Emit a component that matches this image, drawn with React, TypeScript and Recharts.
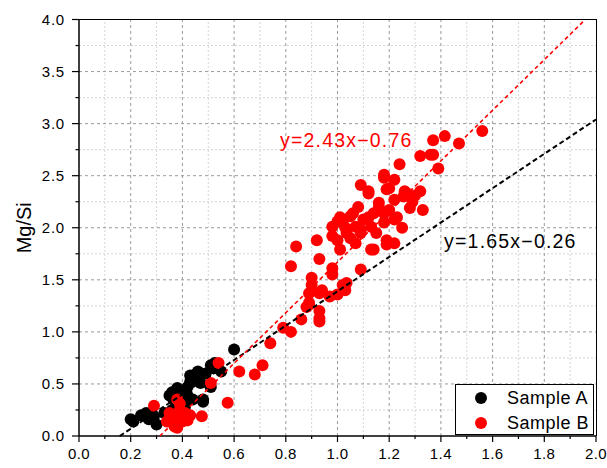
import React from 'react';
import { ScatterChart, Scatter, XAxis, YAxis, ReferenceLine, ReferenceDot, Legend } from 'recharts';

const FONT = 'Arial, "Liberation Sans", sans-serif';

// Sample A (black) [x, Mg/Si]
const sampleA: [number, number][] = [
  [0.2, 0.16], [0.21, 0.14], [0.24, 0.2], [0.26, 0.22], [0.27, 0.16], [0.29, 0.19], [0.3, 0.11],
  [0.33, 0.22], [0.35, 0.39], [0.365, 0.35], [0.36, 0.42], [0.38, 0.46], [0.38, 0.44], [0.39, 0.4],
  [0.4, 0.42], [0.42, 0.39], [0.43, 0.52], [0.43, 0.58], [0.44, 0.35], [0.45, 0.57], [0.455, 0.6],
  [0.46, 0.62], [0.47, 0.51], [0.44, 0.55], [0.48, 0.33], [0.48, 0.35], [0.51, 0.68], [0.52, 0.65],
  [0.525, 0.7], [0.55, 0.62], [0.51, 0.47], [0.505, 0.49], [0.6, 0.83], [0.38, 0.3], [0.36, 0.25],
  [0.41, 0.28], [0.47, 0.58], [0.49, 0.6], [0.42, 0.47], [0.4, 0.36],
];

// Sample B (red)
const sampleB: [number, number][] = [
  // low cluster
  [0.29, 0.29], [0.34, 0.14], [0.35, 0.22], [0.36, 0.13], [0.37, 0.09], [0.37, 0.2], [0.38, 0.35],
  [0.39, 0.25], [0.4, 0.14], [0.38, 0.08], [0.42, 0.15], [0.41, 0.22], [0.475, 0.19], [0.36, 0.18],
  [0.39, 0.31], [0.43, 0.2],
  // rising limb
  [0.51, 0.51], [0.54, 0.7], [0.575, 0.32], [0.62, 0.62], [0.68, 0.59], [0.71, 0.68], [0.74, 0.89],
  [0.79, 1.04], [0.82, 1.0], [0.86, 1.12], [0.89, 1.26], [0.89, 1.28], [0.93, 1.2], [0.93, 1.1],
  [0.93, 1.13], [0.88, 1.24], [0.9, 1.52], [0.9, 1.45], [0.89, 1.37], [0.93, 1.37], [0.94, 1.4],
  [0.97, 1.34], [1.0, 1.36], [1.03, 1.4], [1.035, 1.47], [0.98, 1.55], [1.02, 1.45],
  // main cluster
  [0.82, 1.63], [0.84, 1.82], [0.92, 1.88], [0.93, 1.7], [0.98, 1.61], [1.09, 1.6], [0.98, 2.01],
  [1.0, 1.88], [1.01, 1.79], [1.05, 2.11], [1.07, 1.85], [1.13, 1.79], [1.19, 1.88], [1.22, 1.85],
  [1.13, 2.01], [1.16, 2.2], [1.14, 2.14], [1.2, 2.17], [1.02, 2.05], [1.07, 2.01], [1.1, 2.08],
  [1.09, 1.95], [1.035, 1.95], [0.98, 1.92], [1.01, 2.1], [1.06, 2.14], [1.0, 2.06], [1.09, 1.98],
  [1.14, 1.79], [1.19, 1.84], [1.16, 2.24], [1.22, 2.27], [1.12, 2.1], [1.18, 2.05], [1.23, 2.1],
  [1.05, 1.9], [1.15, 1.95], [1.25, 2.0], [1.03, 2.0], [1.08, 2.2],
  // upper
  [1.09, 2.41], [1.12, 2.33], [1.12, 2.35], [1.18, 2.51], [1.2, 2.38], [1.18, 2.48], [1.22, 2.46],
  [1.19, 2.37], [1.24, 2.61], [1.26, 2.35], [1.32, 2.35], [1.27, 2.33], [1.33, 2.17], [1.28, 2.19],
  [1.255, 2.3], [1.29, 2.25], [1.22, 2.08], [1.18, 2.14], [1.3, 2.31], [1.32, 2.69], [1.36, 2.7],
  [1.37, 2.84], [1.37, 2.7], [1.39, 2.57], [1.415, 2.88], [1.47, 2.81], [1.56, 2.93],
];

const fits = [
  { name: 'A', slope: 1.65, intercept: -0.26, color: '#000000', label: 'y=1.65x\u22120.26', labelAt: [1.393, 1.875], width: 2, dash: '5 3' },
  { name: 'B', slope: 2.43, intercept: -0.76, color: '#ff0000', label: 'y=2.43x\u22120.76', labelAt: [0.758, 2.84], width: 1.6, dash: '4 3' },
];

const xTicks = [0, 0.1, 0.2, 0.3, 0.4, 0.5, 0.6, 0.7, 0.8, 0.9, 1.0, 1.1, 1.2, 1.3, 1.4, 1.5, 1.6, 1.7, 1.8, 1.9, 2.0];
const yTicks = [0, 0.25, 0.5, 0.75, 1.0, 1.25, 1.5, 1.75, 2.0, 2.25, 2.5, 2.75, 3.0, 3.25, 3.5, 3.75, 4.0];

const X_MAX = 2;
const Y_MAX = 4;

// chart box
const W = 599;
const H = 460;
const M = { top: 11.5, right: 11, left: 1, bottom: 2 };
const Y_AXIS_W = 70;
const X_AXIS_H = 30;

const isMajor = (v: number, step: number) => Math.abs(v / step - Math.round(v / step)) < 1e-6;

const toPoints = (arr: [number, number][]) => arr.map(([x, y]) => ({ x, y }));

const fitLine = (f: typeof fits[number]) => {
  const x0 = -f.intercept / f.slope;
  const x1 = Math.min(X_MAX, (Y_MAX - f.intercept) / f.slope);
  return [x0, x1].map((x) => ({ x, y: f.slope * x + f.intercept }));
};

const XTick = (props: any) => {
  const { x, y, payload } = props;
  const v = payload.value as number;
  const major = isMajor(v, 0.2);
  return (
    <g>
      <line x1={x} x2={x} y1={y} y2={y + (major ? 6 : 3)} stroke="#000" strokeWidth={1.2} />
      {major && (
        <text x={x} y={y + 23} textAnchor="middle" fontSize={15} fontFamily={FONT} letterSpacing={0.4} fill="#000">
          {v.toFixed(1)}
        </text>
      )}
    </g>
  );
};

const YTick = (props: any) => {
  const { x, y, payload } = props;
  const v = payload.value as number;
  const major = isMajor(v, 0.5);
  return (
    <g>
      <line x1={x} x2={x - (major ? 7 : 3.5)} y1={y} y2={y} stroke="#000" strokeWidth={1.2} />
      {major && (
        <text x={x - 14} y={y + 5} textAnchor="end" fontSize={15} fontFamily={FONT} letterSpacing={0.8} fill="#000">
          {v.toFixed(1)}
        </text>
      )}
    </g>
  );
};

const dotShape = (color: string) => (props: any) => <circle cx={props.cx} cy={props.cy} r={6} fill={color} />;

const LegendBox = () => (
  <div
    style={{
      boxSizing: 'border-box',
      width: 139,
      height: 51,
      border: '1px solid #000',
      background: '#fff',
      position: 'relative',
      fontFamily: FONT,
      fontSize: 18,
      letterSpacing: 0.5,
    }}
  >
    {[
      { label: 'Sample A', color: '#000000', top: 13 },
      { label: 'Sample B', color: '#ff0000', top: 38 },
    ].map((r) => (
      <div key={r.label}>
        <span
          style={{
            position: 'absolute',
            left: 19,
            top: r.top - 6,
            width: 12,
            height: 12,
            borderRadius: 6,
            background: r.color,
          }}
        />
        <span style={{ position: 'absolute', left: 51, top: r.top - 11, lineHeight: '22px', color: '#000' }}>{r.label}</span>
      </div>
    ))}
  </div>
);

export default function App() {
  const minorX = xTicks.filter((v) => !isMajor(v, 0.2));
  const majorX = xTicks.filter((v) => isMajor(v, 0.2) && v > 0 && v < X_MAX);
  const minorY = yTicks.filter((v) => !isMajor(v, 0.5));
  const majorY = yTicks.filter((v) => isMajor(v, 0.5) && v > 0 && v < Y_MAX);

  // plot rectangle, for the top/right frame edges
  const plotLeft = M.left + Y_AXIS_W;
  const plotRight = W - M.right;
  const plotTop = M.top;
  const plotBottom = H - M.bottom - X_AXIS_H;

  return (
    <div style={{ position: 'absolute', left: 8, top: 8, width: W, height: H }}>
      <ScatterChart width={W} height={H} margin={M}>
        <XAxis
          type="number"
          dataKey="x"
          domain={[0, X_MAX]}
          ticks={xTicks}
          interval={0}
          height={X_AXIS_H}
          tickSize={0}
          tickMargin={0}
          tickLine={false}
          tick={<XTick />}
          axisLine={{ stroke: '#000', strokeWidth: 1.5 }}
        />
        <YAxis
          type="number"
          dataKey="y"
          domain={[0, Y_MAX]}
          ticks={yTicks}
          interval={0}
          width={Y_AXIS_W}
          tickSize={0}
          tickMargin={0}
          tickLine={false}
          tick={<YTick />}
          axisLine={{ stroke: '#000', strokeWidth: 1.5 }}
          label={{
            content: (p: any) => {
              const vb = p.viewBox || { x: M.left, y: plotTop, width: Y_AXIS_W, height: plotBottom - plotTop };
              const cx = vb.x + vb.width - 55;
              const cy = vb.y + vb.height / 2;
              return (
                <text
                  x={cx}
                  y={cy}
                  transform={`rotate(-90, ${cx}, ${cy})`}
                  textAnchor="middle"
                  dominantBaseline="central"
                  fontSize={20}
                  fontFamily={FONT}
                  fill="#000"
                >
                  Mg/Si
                </text>
              );
            },
          }}
        />

        {minorX.map((v) => (
          <ReferenceLine key={`mx${v}`} x={v} stroke="#d4d4d4" strokeDasharray="2 2" />
        ))}
        {minorY.map((v) => (
          <ReferenceLine key={`my${v}`} y={v} stroke="#d4d4d4" strokeDasharray="2 2" />
        ))}
        {majorX.map((v) => (
          <ReferenceLine key={`Mx${v}`} x={v} stroke="#9a9a9a" strokeDasharray="3 3" />
        ))}
        {majorY.map((v) => (
          <ReferenceLine key={`My${v}`} y={v} stroke="#9a9a9a" strokeDasharray="3 3" />
        ))}

        <Scatter name="Sample A" data={toPoints(sampleA)} fill="#000000" shape={dotShape('#000000')} isAnimationActive={false} />
        <Scatter name="Sample B" data={toPoints(sampleB)} fill="#ff0000" shape={dotShape('#ff0000')} isAnimationActive={false} />

        {fits.map((f) => (
          <Scatter
            key={`fit${f.name}`}
            data={fitLine(f)}
            line={{ stroke: f.color, strokeWidth: f.width, strokeDasharray: f.dash }}
            shape={() => <g />}
            legendType="none"
            isAnimationActive={false}
          />
        ))}

        {fits.map((f) => (
          <ReferenceDot
            key={`lbl${f.name}`}
            x={f.labelAt[0]}
            y={f.labelAt[1]}
            r={0}
            stroke="none"
            fill="none"
            label={{
              content: (p: any) => {
                const vb = p.viewBox || { x: 0, y: 0 };
                return (
                  <text
                    x={vb.x + 5}
                    y={vb.y}
                    dominantBaseline="central"
                    fontSize={19.5}
                    fontFamily={FONT}
                    letterSpacing={1.2}
                    fill={f.color}
                  >
                    {f.label}
                  </text>
                );
              },
            }}
          />
        ))}

        <Legend
          layout="vertical"
          align="center"
          verticalAlign="middle"
          wrapperStyle={{ position: 'absolute', left: 447, top: 376, width: 139, height: 51 }}
          content={() => <LegendBox />}
        />
      </ScatterChart>
      {/* top and right frame edges */}
      <div
        style={{
          position: 'absolute',
          boxSizing: 'border-box',
          left: plotLeft,
          top: plotTop - 0.75,
          width: plotRight - plotLeft + 0.75,
          height: plotBottom - plotTop + 0.75,
          borderTop: '1.5px solid #000',
          borderRight: '1.5px solid #000',
          pointerEvents: 'none',
        }}
      />
    </div>
  );
}
